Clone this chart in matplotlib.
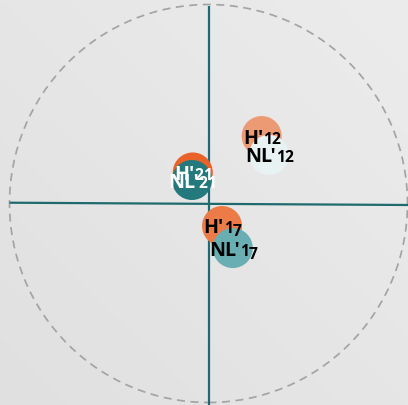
import matplotlib
matplotlib.use("Agg")
import matplotlib.pyplot as plt
from matplotlib.patches import Circle
import numpy as np

# ---- data ----
labels_main = ["H'", "NL'", "H'", "NL'", "H'", "NL'"]
labels_year = ["12", "12", "21", "21", "17", "17"]
x_vals = [0.267, 0.304, -0.079, -0.083, 0.068, 0.122]
y_vals = [0.339, 0.244, 0.156, 0.118, -0.113, -0.224]
fill_colors = ["#EC9A74", "#E9F2F2", "#E8622A", "#23797B", "#EC7B48", "#69AEB2"]
text_colors = ["#000000", "#000000", "#FFFFFF", "#FFFFFF", "#000000", "#000000"]

W, H, DPI = 408, 405, 100
fig = plt.figure(figsize=(W / DPI, H / DPI), dpi=DPI)
ax = fig.add_axes([0, 0, 1, 1])
scale = 199.0
cx, cy = 208.5, 203.5
x0, x1 = -cx / scale, (W - cx) / scale
y0, y1 = -(H - cy) / scale, cy / scale
ax.set_xlim(x0, x1)
ax.set_ylim(y0, y1)
ax.axis("off")

# background gradient
gx = np.linspace(0, 1, 200)
gy = np.linspace(0, 1, 200)
GX, GY = np.meshgrid(gx, gy)
g = 0.5 * GX + 0.5 * GY
c_low = np.array([0xE0, 0xE0, 0xE0]) / 255
c_high = np.array([0xEC, 0xEC, 0xEC]) / 255
img = c_low[None, None, :] + (c_high - c_low)[None, None, :] * g[..., None]
ax.imshow(img, extent=[x0, x1, y0, y1], origin="lower", aspect="auto", zorder=0)

# dashed circle
ax.add_patch(Circle((0, 0), 1.0, fill=False, edgecolor="#A4A4A4", lw=1.25,
                    linestyle=(0, (4.6, 3.2)), zorder=1))

# axis lines
line_c = "#1F6A6D"
ax.plot([-1.0, x1], [0.004, -0.0075], color=line_c, lw=1.6, zorder=2,
        solid_capstyle="butt")
ax.plot([0.001, 0.001], [0.991, y0], color=line_c, lw=1.6, zorder=2,
        solid_capstyle="butt")

# circles
for xv, yv, fc in zip(x_vals, y_vals, fill_colors):
    ax.add_patch(Circle((xv, yv), 0.1005, facecolor=fc, edgecolor="none", zorder=3))

# labels (old-style figures emulated with smaller digits, 7 descending)
fig.canvas.draw()
renderer = fig.canvas.get_renderer()
big_fs, small_fs = 14.2, 11.2
font = "Open Sans"
inv = ax.transData.inverted()
for xv, yv, m, yr, tc in zip(x_vals, y_vals, labels_main, labels_year, text_colors):
    t1 = ax.text(0, 0, m, fontsize=big_fs, fontweight="bold", family=font,
                 color=tc, ha="left", va="baseline", zorder=5)
    parts = [t1]
    for ch in yr:
        parts.append(ax.text(0, 0, ch, fontsize=small_fs, fontweight="bold",
                             family=font, color=tc, ha="left", va="baseline",
                             zorder=5))
    widths = [p.get_window_extent(renderer).width for p in parts]
    widths[1:] = [w - 0.3 for w in widths[1:]]
    tot = sum(widths)
    px, py = ax.transData.transform((xv, yv))
    base_y = py - 7.5
    left = px - tot / 2
    for p, w, ch in zip(parts, widths, [m] + list(yr)):
        dy = -3.0 if ch == "7" else 0.0
        p.set_position(inv.transform((left, base_y + dy)))
        left += w

fig.savefig("out.png", dpi=DPI)
